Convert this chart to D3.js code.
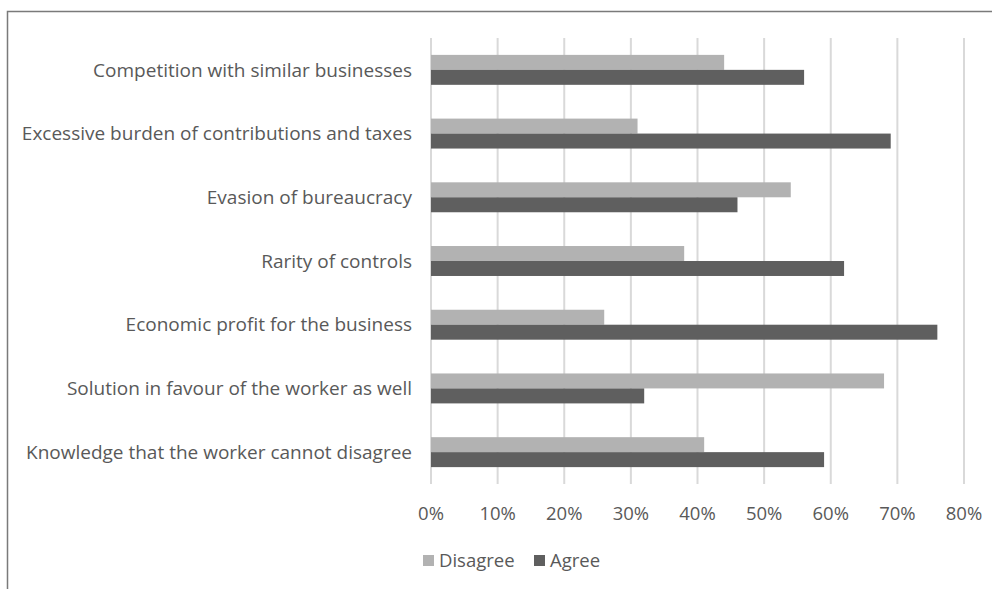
<!DOCTYPE html>
<html>
<head>
<meta charset="utf-8">
<script src="https://cdn.jsdelivr.net/npm/d3@7"></script>
<style>
  body { margin: 0; background: #fff; }
  text { font-family: "Open Sans", sans-serif; fill: #595959; }
</style>
</head>
<body>
<div id="chart"></div>
<script>
  const categories = [
    "Competition with similar businesses",
    "Excessive burden of contributions and taxes",
    "Evasion of bureaucracy",
    "Rarity of controls",
    "Economic profit for the business",
    "Solution in favour of the worker as well",
    "Knowledge that the worker cannot disagree"
  ];
  const disagree = [44, 31, 54, 38, 26, 68, 41];
  const agree = [56, 69, 46, 62, 76, 32, 59];
  const seriesNames = ["Disagree", "Agree"];
  const seriesColors = ["#b2b2b2", "#5f5f5f"];
  const xTicks = [0, 10, 20, 30, 40, 50, 60, 70, 80];

  const W = 992, H = 589;
  const margin = {top: 38, right: 28, bottom: 105, left: 431};
  const width = W - margin.left - margin.right;
  const height = H - margin.top - margin.bottom;

  const svg = d3.select("#chart").append("svg")
    .attr("width", W)
    .attr("height", H);

  // outer frame (only top and left edges visible in the crop)
  svg.append("rect")
    .attr("x", 7.5).attr("y", 11.5)
    .attr("width", W + 20).attr("height", H + 20)
    .attr("fill", "none")
    .attr("stroke", "#7a7a7a")
    .attr("stroke-width", 1.5);

  const g = svg.append("g")
    .attr("transform", "translate(" + margin.left + "," + margin.top + ")");

  const x = d3.scaleLinear().domain([0, 80]).range([0, 533]);
  const y = d3.scaleBand().domain(categories).range([0, height]).paddingInner(0.53).paddingOuter(0.265);
  const ySub = d3.scaleBand().domain(seriesNames).range([0, y.bandwidth()]);

  // gridlines
  g.append("g").selectAll("line")
    .data(xTicks)
    .enter().append("line")
    .attr("x1", d => x(d)).attr("x2", d => x(d))
    .attr("y1", 0).attr("y2", height)
    .attr("stroke", "#d9d9d9")
    .attr("stroke-width", 2);

  const rows = categories.map((c, i) => ({cat: c, vals: [disagree[i], agree[i]]}));

  const row = g.selectAll(".row")
    .data(rows)
    .enter().append("g")
    .attr("class", "row")
    .attr("transform", d => "translate(0," + y(d.cat) + ")");

  row.selectAll("rect")
    .data(d => d.vals.map((v, j) => ({name: seriesNames[j], v: v, c: seriesColors[j]})))
    .enter().append("rect")
    .attr("x", x(0))
    .attr("y", d => ySub(d.name))
    .attr("width", d => x(d.v) - x(0))
    .attr("height", ySub.bandwidth())
    .attr("fill", d => d.c);

  // category labels
  g.selectAll(".cat")
    .data(categories)
    .enter().append("text")
    .attr("class", "cat")
    .attr("x", -19)
    .attr("y", d => y(d) + y.bandwidth() / 2)
    .attr("dy", "0.35em")
    .attr("text-anchor", "end")
    .style("font-size", "19px")
    .text(d => d);

  // x axis tick labels
  g.selectAll(".tick-label")
    .data(xTicks)
    .enter().append("text")
    .attr("class", "tick-label")
    .attr("x", d => x(d))
    .attr("y", height + 36)
    .attr("text-anchor", "middle")
    .style("font-size", "18.5px")
    .text(d => d + "%");

  // legend
  const legend = svg.append("g").attr("transform", "translate(423,555)");
  const offsets = [0, 111];
  seriesNames.forEach((n, i) => {
    const lg = legend.append("g").attr("transform", "translate(" + offsets[i] + ",0)");
    lg.append("rect").attr("width", 11).attr("height", 11).attr("fill", seriesColors[i]);
    lg.append("text").attr("x", 16).attr("y", 6).attr("dy", "0.35em")
      .style("font-size", "18.5px").text(n);
  });
</script>
</body>
</html>
